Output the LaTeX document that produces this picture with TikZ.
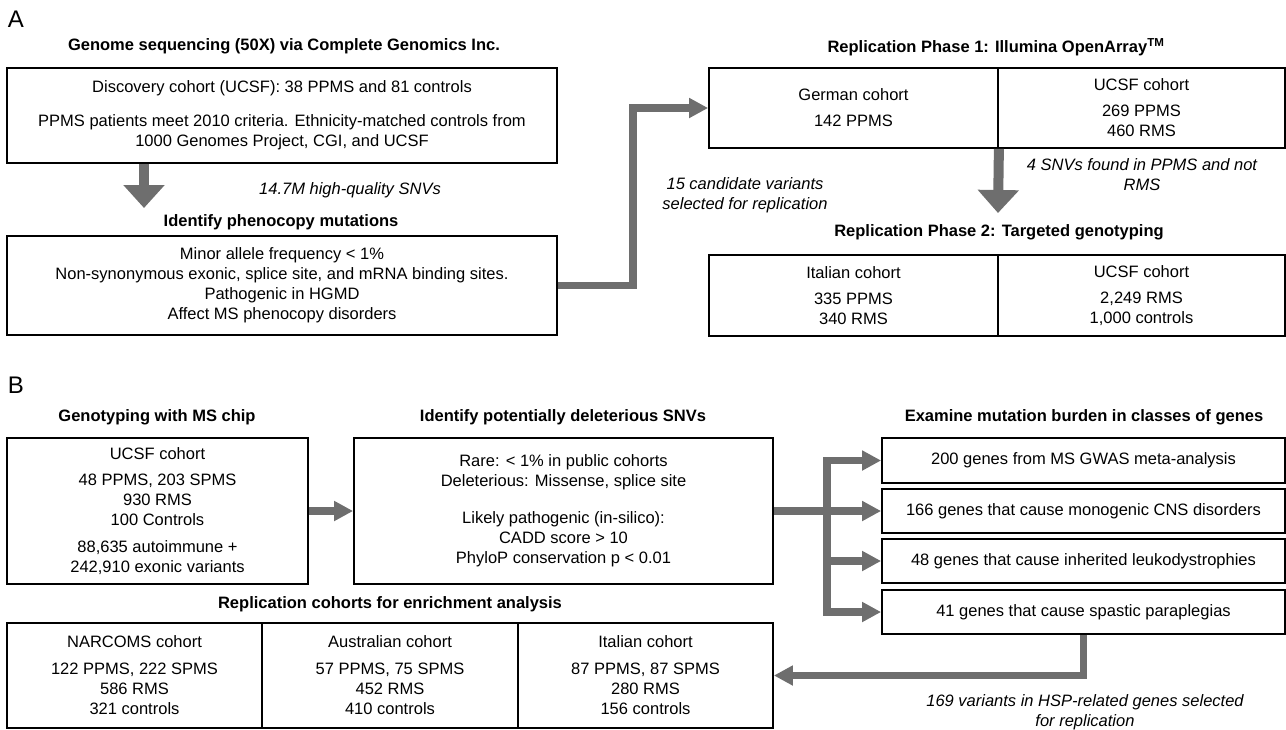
\documentclass[tikz,border=0pt]{standalone}
\usepackage{fontspec}
\setmainfont{Liberation Sans}
\usetikzlibrary{arrows.meta}
\definecolor{arrowgray}{RGB}{110,110,110}

\tikzstyle{box}=[draw, line width=1.8pt, inner sep=0pt, align=center]
\tikzstyle{heading}=[font=\bfseries\fontsize{16.5}{20}\selectfont]
\tikzstyle{note}=[font=\itshape\fontsize{16.5}{20}\selectfont, align=center]
\tikzstyle{panel}=[font=\fontsize{24}{28}\selectfont]
\tikzstyle{dir}=[-{Triangle[length=19pt,width=19pt]}, line width=7.5pt, arrowgray]
\tikzstyle{bigdir}=[-{Triangle[length=23pt,width=40pt]}, line width=10pt, arrowgray]

\begin{document}
\begin{tikzpicture}[x=1pt, y=-1pt, font=\fontsize{16.5}{20}\selectfont]
	\useasboundingbox (0,0) rectangle (1286,729);

	% panel A
	\node[panel] (labelA) at (16,19) {A};
	\node[heading] (seqtitle) at (284,46) {Genome sequencing (50X) via Complete Genomics Inc.};
	\node[box, minimum width=550, minimum height=95] (disc) at (282,115.5) {Discovery cohort (UCSF): 38 PPMS and 81 controls\\[14pt]PPMS patients meet 2010 criteria. Ethnicity-matched controls from\\1000 Genomes Project, CGI, and UCSF};
	\node[note] (snvs) at (350,190) {14.7M high-quality SNVs};
	\node[heading] (phenotitle) at (281,222) {Identify phenocopy mutations};
	\node[box, minimum width=550, minimum height=99] (pheno) at (282,285.5) {Minor allele frequency < 1\%\\Non-synonymous exonic, splice site, and mRNA binding sites.\\Pathogenic in HGMD\\Affect MS phenocopy disorders};

	\node[heading] (rep1title) at (996,47) {Replication Phase 1: Illumina OpenArray\textsuperscript{TM}};
	\node[box, minimum width=289, minimum height=80] (german) at (853.5,108) {German cohort\\[6pt]142 PPMS};
	\node[box, minimum width=287, minimum height=80] (ucsfA) at (1141.5,108) {UCSF cohort\\[6pt]269 PPMS\\460 RMS};
	\node[note] (cand) at (745,195) {15 candidate variants\\selected for replication};
	\node[note] (found) at (1142,175) {4 SNVs found in PPMS and not\\RMS};
	\node[heading] (rep2title) at (999,232) {Replication Phase 2: Targeted genotyping};
	\node[box, minimum width=289, minimum height=81] (italyA) at (853.5,295.5) {Italian cohort\\[6pt]335 PPMS\\340 RMS};
	\node[box, minimum width=287, minimum height=81] (ucsfB) at (1141.5,295.5) {UCSF cohort\\[6pt]2,249 RMS\\1,000 controls};

	\coordinate (tipA) at (144,208);
	\coordinate (turnA) at (633,200);
	\coordinate (tipB) at (998,213);
	\draw[bigdir] (disc.south -| tipA) -- (tipA);
	\draw[dir] (pheno.east) -| (turnA) |- (german.west);
	\draw[bigdir] (german.south east) -- (tipB);

	% panel B
	\node[panel] (labelB) at (16,385) {B};
	\node[heading] (chiptitle) at (157,417) {Genotyping with MS chip};
	\node[box, minimum width=301, minimum height=146] (chip) at (157.5,511) {UCSF cohort\\[6pt]48 PPMS, 203 SPMS\\930 RMS\\100 Controls\\[7pt]88,635 autoimmune +\\242,910 exonic variants};
	\node[heading] (filtertitle) at (563,417) {Identify potentially deleterious SNVs};
	\node[box, minimum width=419, minimum height=146] (filter) at (563.5,511) {Rare: < 1\% in public cohorts\\Deleterious: Missense, splice site\\[17pt]Likely pathogenic (in-silico):\\CADD score > 10\\PhyloP conservation p < 0.01};
	\node[heading] (genetitle) at (1084,417) {Examine mutation burden in classes of genes};
	\node[box, minimum width=403, minimum height=45] (gwas) at (1083.5,460.5) {200 genes from MS GWAS meta-analysis};
	\node[box, minimum width=403, minimum height=44] (cns) at (1083.5,511) {166 genes that cause monogenic CNS disorders};
	\node[box, minimum width=403, minimum height=44] (leuko) at (1083.5,561) {48 genes that cause inherited leukodystrophies};
	\node[box, minimum width=403, minimum height=44] (hsp) at (1083.5,612) {41 genes that cause spastic paraplegias};

	\node[heading] (enrichtitle) at (390,604) {Replication cohorts for enrichment analysis};
	\node[box, minimum width=255, minimum height=105] (narcoms) at (134.5,675.5) {NARCOMS cohort\\[7pt]122 PPMS, 222 SPMS\\586 RMS\\321 controls};
	\node[box, minimum width=256, minimum height=105] (austr) at (390,675.5) {Australian cohort\\[7pt]57 PPMS, 75 SPMS\\452 RMS\\410 controls};
	\node[box, minimum width=255, minimum height=105] (italyB) at (645.5,675.5) {Italian cohort\\[7pt]87 PPMS, 87 SPMS\\280 RMS\\156 controls};
	\node[note] (hspvar) at (1085,712) {169 variants in HSP-related genes selected\\for replication};

	\coordinate (split) at (827,511);
	\draw[dir] (chip.east) -- (filter.west);
	\draw[dir, -] (filter.east) -- (split);
	\draw[dir, -, line cap=rect] (split |- gwas.west) -- (split |- hsp.west);
	\draw[dir] (split |- gwas.west) -- (gwas.west);
	\draw[dir] (split |- cns.west) -- (cns.west);
	\draw[dir] (split |- leuko.west) -- (leuko.west);
	\draw[dir] (split |- hsp.west) -- (hsp.west);
	\draw[dir] (hsp.south) |- (italyB.east);

\end{tikzpicture}
\end{document}
